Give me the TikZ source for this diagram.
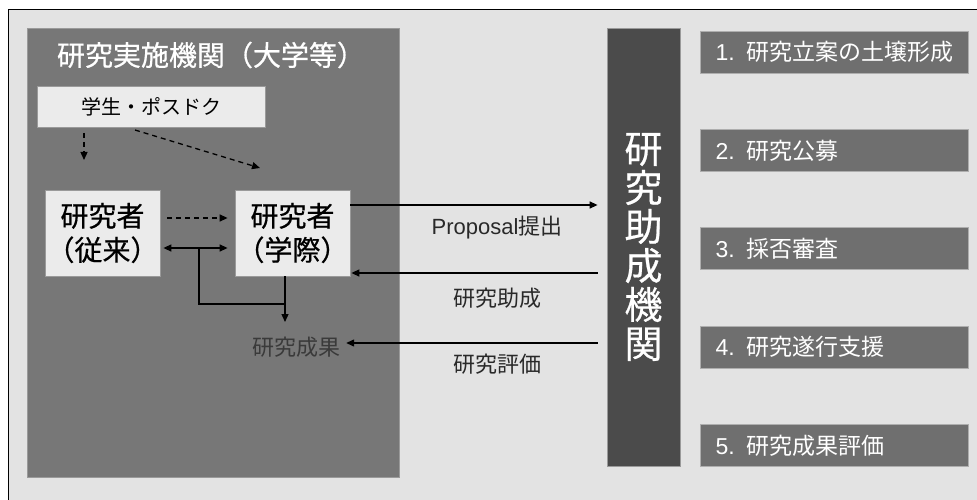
\documentclass[tikz,border=0pt]{standalone}
\usepackage{fontspec}
\setmainfont{Noto Sans CJK JP}
\newfontfamily\heavyjp{Noto Sans CJK JP}[FakeBold=0.6]
\newfontfamily\latinsans{Liberation Sans}
\usetikzlibrary{arrows.meta}
\definecolor{bgc}{HTML}{E3E3E3}
\definecolor{panel}{HTML}{777777}
\definecolor{panelb}{HTML}{9A9A9A}
\definecolor{lightbox}{HTML}{EBEBEB}
\definecolor{agencyc}{HTML}{4B4B4B}
\definecolor{stepc}{HTML}{6F6F6F}
\definecolor{darktext}{HTML}{3A3A3A}
\tikzset{
  tip/.style={-{Triangle[length=8pt,width=7pt]}},
  lbox/.style={draw=panelb,fill=lightbox,line width=0.8pt,inner sep=0pt,text=black},
  stepbox/.style={draw=panelb!80!white,fill=stepc,line width=0.8pt,minimum width=268pt,minimum height=42pt,text width=238pt,inner xsep=15pt,inner ysep=0pt,align=left,text=white,font=\fontsize{23}{26}\selectfont},
  lab/.style={font=\fontsize{22}{24}\selectfont,text=darktext!70!black},
  conn/.style={line width=1.3pt,black},
  dsh/.style={dash pattern=on 5pt off 4pt},
}
\begin{document}
\begin{tikzpicture}[x=1pt,y=-1pt]
\useasboundingbox (0,0) rectangle (977,500);
\clip (0,0) rectangle (977,500);
\fill[white] (0,0) rectangle (977,500);
\draw[fill=bgc,line width=1.8pt] (8.5,9.5) rectangle (1000,530);
% institution panel
\node[draw=panelb,fill=panel,line width=0.8pt,minimum width=372pt,minimum height=449pt,inner sep=0pt] (inst) at (213,252.5) {};
\node[text=white,font=\heavyjp\fontsize{28}{30}\selectfont] (insttitle) at (211,55) {研究実施機関（大学等）};
\node[lbox,minimum width=228pt,minimum height=41pt,font=\fontsize{20}{22}\selectfont] (gakusei) at (151,106.5) {学生・ポスドク};
\node[lbox,minimum width=115pt,minimum height=86pt,align=center,font=\heavyjp\fontsize{28}{34}\selectfont] (juurai) at (102.5,233) {研究者\\（従来）};
\node[lbox,minimum width=115pt,minimum height=86pt,align=center,font=\heavyjp\fontsize{28}{34}\selectfont] (gakusai) at (292.5,233) {研究者\\（学際）};
\node[text=darktext,font=\fontsize{22}{24}\selectfont,inner sep=0pt] (seika) at (296,347) {研究成果};
% agency
\node[draw=panelb,fill=agencyc,line width=0.8pt,minimum width=73pt,minimum height=438pt,inner sep=0pt] (agency) at (643.5,247) {};
\node[text=white,align=center,font=\heavyjp\fontsize{38}{39}\selectfont] (agencytext) at (643.5,247) {研\\究\\助\\成\\機\\関};
% steps
\node[stepbox] (s1) at (834.5,52) {{\latinsans 1.} 研究立案の土壌形成};
\node[stepbox] (s2) at (834.5,150.5) {{\latinsans 2.} 研究公募};
\node[stepbox] (s3) at (834.5,248.5) {{\latinsans 3.} 採否審査};
\node[stepbox] (s4) at (834.5,347) {{\latinsans 4.} 研究遂行支援};
\node[stepbox] (s5) at (834.5,445.5) {{\latinsans 5.} 研究成果評価};
% dashed arrows
\coordinate (d1s) at (84,133);
\coordinate (d1e) at (84,160);
\coordinate (d2s) at (135,130);
\coordinate (d2e) at (260,168);
\draw[conn,tip,dsh] (d1s) -- (d1e);
\draw[conn,tip,dsh] (d2s) -- (d2e);
\draw[conn,tip,dsh,shorten <=7pt,shorten >=7pt] (juurai.east |- 0,218) -- (gakusai.west |- 0,218);
\draw[conn,{Triangle[length=8pt,width=7pt]}-{Triangle[length=8pt,width=7pt]},shorten <=3pt,shorten >=7pt] (juurai.east |- 0,248) -- (gakusai.west |- 0,248);
\draw[conn] (199,248) -- (199,304) -- (285,304);
\draw[conn,tip] (gakusai.south -| 285,0) -- (285,322);
% main arrows
\draw[conn,tip,shorten >=9pt] (gakusai.east |- 0,205) -- (agency.west |- 0,205);
\draw[conn,tip,shorten <=9pt,shorten >=1pt] (agency.west |- 0,273) -- (gakusai.east |- 0,273);
\draw[conn,tip,shorten <=9pt,shorten >=6pt] (agency.west |- 0,343) -- (seika.east |- 0,343);
\node[lab] (l1) at (497,228) {{\latinsans Proposal}提出};
\node[lab] (l2) at (497,298) {研究助成};
\node[lab] (l3) at (497,364) {研究評価};
\end{tikzpicture}
\end{document}
